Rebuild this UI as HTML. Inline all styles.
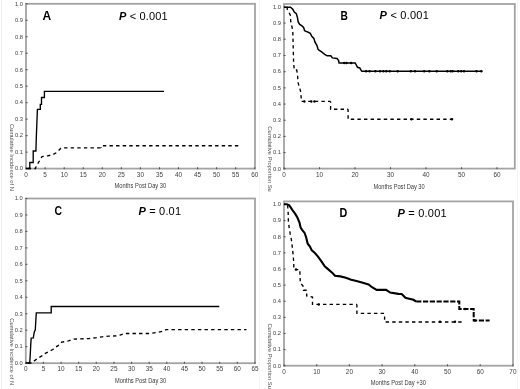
<!DOCTYPE html>
<html><head><meta charset="utf-8"><style>
html,body{margin:0;padding:0;background:#fff;}
svg{display:block;font-family:"Liberation Sans",sans-serif;filter:blur(0.3px);}
</style></head><body>
<svg width="520" height="389" viewBox="0 0 520 389">
<rect width="520" height="389" fill="#fff"/>
<line x1="1.5" y1="0" x2="1.5" y2="389" stroke="#efefef" stroke-width="1"/>
<line x1="259.5" y1="0" x2="259.5" y2="389" stroke="#f6f6f6" stroke-width="1"/>
<line x1="517.5" y1="0" x2="517.5" y2="389" stroke="#f6f6f6" stroke-width="1"/>
<rect x="26" y="3.8" width="229" height="164.8" fill="none" stroke="#a3a3a3" stroke-width="1.8"/>
<line x1="25.6" y1="168.6" x2="27.6" y2="168.6" stroke="#555" stroke-width="1.1"/>
<text x="23" y="170.4" text-anchor="end" font-size="5.9" fill="#404040" textLength="8" lengthAdjust="spacingAndGlyphs">0.0</text>
<line x1="25.6" y1="152.12" x2="27.6" y2="152.12" stroke="#555" stroke-width="1.1"/>
<text x="23" y="153.92" text-anchor="end" font-size="5.9" fill="#404040" textLength="8" lengthAdjust="spacingAndGlyphs">0.1</text>
<line x1="25.6" y1="135.64" x2="27.6" y2="135.64" stroke="#555" stroke-width="1.1"/>
<text x="23" y="137.44" text-anchor="end" font-size="5.9" fill="#404040" textLength="8" lengthAdjust="spacingAndGlyphs">0.2</text>
<line x1="25.6" y1="119.16" x2="27.6" y2="119.16" stroke="#555" stroke-width="1.1"/>
<text x="23" y="120.96" text-anchor="end" font-size="5.9" fill="#404040" textLength="8" lengthAdjust="spacingAndGlyphs">0.3</text>
<line x1="25.6" y1="102.68" x2="27.6" y2="102.68" stroke="#555" stroke-width="1.1"/>
<text x="23" y="104.48" text-anchor="end" font-size="5.9" fill="#404040" textLength="8" lengthAdjust="spacingAndGlyphs">0.4</text>
<line x1="25.6" y1="86.2" x2="27.6" y2="86.2" stroke="#555" stroke-width="1.1"/>
<text x="23" y="88" text-anchor="end" font-size="5.9" fill="#404040" textLength="8" lengthAdjust="spacingAndGlyphs">0.5</text>
<line x1="25.6" y1="69.72" x2="27.6" y2="69.72" stroke="#555" stroke-width="1.1"/>
<text x="23" y="71.52" text-anchor="end" font-size="5.9" fill="#404040" textLength="8" lengthAdjust="spacingAndGlyphs">0.6</text>
<line x1="25.6" y1="53.24" x2="27.6" y2="53.24" stroke="#555" stroke-width="1.1"/>
<text x="23" y="55.04" text-anchor="end" font-size="5.9" fill="#404040" textLength="8" lengthAdjust="spacingAndGlyphs">0.7</text>
<line x1="25.6" y1="36.76" x2="27.6" y2="36.76" stroke="#555" stroke-width="1.1"/>
<text x="23" y="38.56" text-anchor="end" font-size="5.9" fill="#404040" textLength="8" lengthAdjust="spacingAndGlyphs">0.8</text>
<line x1="25.6" y1="20.28" x2="27.6" y2="20.28" stroke="#555" stroke-width="1.1"/>
<text x="23" y="22.08" text-anchor="end" font-size="5.9" fill="#404040" textLength="8" lengthAdjust="spacingAndGlyphs">0.9</text>
<line x1="25.6" y1="3.8" x2="27.6" y2="3.8" stroke="#555" stroke-width="1.1"/>
<text x="23" y="5.6" text-anchor="end" font-size="5.9" fill="#404040" textLength="8" lengthAdjust="spacingAndGlyphs">1.0</text>
<line x1="26.1" y1="169.2" x2="26.1" y2="167.2" stroke="#555" stroke-width="1.1"/>
<text x="26.1" y="177.2" text-anchor="middle" font-size="6.4" fill="#404040">0</text>
<line x1="45.15" y1="169.2" x2="45.15" y2="167.2" stroke="#555" stroke-width="1.1"/>
<text x="45.15" y="177.2" text-anchor="middle" font-size="6.4" fill="#404040">5</text>
<line x1="64.2" y1="169.2" x2="64.2" y2="167.2" stroke="#555" stroke-width="1.1"/>
<text x="64.2" y="177.2" text-anchor="middle" font-size="6.4" fill="#404040">10</text>
<line x1="83.25" y1="169.2" x2="83.25" y2="167.2" stroke="#555" stroke-width="1.1"/>
<text x="83.25" y="177.2" text-anchor="middle" font-size="6.4" fill="#404040">15</text>
<line x1="102.3" y1="169.2" x2="102.3" y2="167.2" stroke="#555" stroke-width="1.1"/>
<text x="102.3" y="177.2" text-anchor="middle" font-size="6.4" fill="#404040">20</text>
<line x1="121.35" y1="169.2" x2="121.35" y2="167.2" stroke="#555" stroke-width="1.1"/>
<text x="121.35" y="177.2" text-anchor="middle" font-size="6.4" fill="#404040">25</text>
<line x1="140.4" y1="169.2" x2="140.4" y2="167.2" stroke="#555" stroke-width="1.1"/>
<text x="140.4" y="177.2" text-anchor="middle" font-size="6.4" fill="#404040">30</text>
<line x1="159.45" y1="169.2" x2="159.45" y2="167.2" stroke="#555" stroke-width="1.1"/>
<text x="159.45" y="177.2" text-anchor="middle" font-size="6.4" fill="#404040">35</text>
<line x1="178.5" y1="169.2" x2="178.5" y2="167.2" stroke="#555" stroke-width="1.1"/>
<text x="178.5" y="177.2" text-anchor="middle" font-size="6.4" fill="#404040">40</text>
<line x1="197.55" y1="169.2" x2="197.55" y2="167.2" stroke="#555" stroke-width="1.1"/>
<text x="197.55" y="177.2" text-anchor="middle" font-size="6.4" fill="#404040">45</text>
<line x1="216.6" y1="169.2" x2="216.6" y2="167.2" stroke="#555" stroke-width="1.1"/>
<text x="216.6" y="177.2" text-anchor="middle" font-size="6.4" fill="#404040">50</text>
<line x1="235.65" y1="169.2" x2="235.65" y2="167.2" stroke="#555" stroke-width="1.1"/>
<text x="235.65" y="177.2" text-anchor="middle" font-size="6.4" fill="#404040">55</text>
<line x1="254.7" y1="169.2" x2="254.7" y2="167.2" stroke="#555" stroke-width="1.1"/>
<text x="254.7" y="177.2" text-anchor="middle" font-size="6.4" fill="#404040">60</text>
<text x="114.6" y="188.2" font-size="6.3" fill="#3a3a3a" textLength="51.6" lengthAdjust="spacingAndGlyphs">Months Post Day 30</text>
<text transform="translate(9.8,124) rotate(90)" font-size="5.8" fill="#505050" textLength="66.8" lengthAdjust="spacingAndGlyphs">Cumulative Incidence of N</text>
<text transform="translate(42.6,19.8) scale(1.0,1)" font-size="12" font-weight="bold" fill="#000">A</text>
<text x="119" y="19.6" font-size="11" fill="#000" textLength="48.6" lengthAdjust="spacing"><tspan font-weight="bold" font-style="italic">P</tspan> &lt; 0.001</text>
<path d="M26 168.5 L29.8 168.5 L29.8 162.5 L33.2 162.5 L33.2 151 L35.9 151 L36.4 135 L37.4 109.4 L40.3 109.4 L40.3 104.4 L41.5 104.4 L41.5 97.5 L44.4 97.5 L44.4 91.4 L164 91.4" fill="none" stroke="#000" stroke-width="1.35" stroke-linejoin="miter"/>
<path d="M26 168.5 L35.5 168.5 L36.2 166.2 L40 160 L42 156.6 L47.7 155.8 L53.1 154.6 L57 152.3 L60.8 148.3 L61.5 147.8 L101.1 147.8" fill="none" stroke="#000" stroke-width="1.35" stroke-dasharray="3.4 3.2" stroke-dashoffset="4.89"/>
<path d="M101.1 147.8 L101.1 145.7 L239.5 145.7" fill="none" stroke="#000" stroke-width="1.35" stroke-dasharray="3.4 3.2" stroke-dashoffset="2.70"/>
<rect x="284" y="4" width="230.8" height="164.6" fill="none" stroke="#a3a3a3" stroke-width="1.8"/>
<line x1="283.6" y1="168.8" x2="285.6" y2="168.8" stroke="#555" stroke-width="1.1"/>
<text x="281" y="170.6" text-anchor="end" font-size="5.9" fill="#404040" textLength="8" lengthAdjust="spacingAndGlyphs">0.0</text>
<line x1="283.6" y1="152.61" x2="285.6" y2="152.61" stroke="#555" stroke-width="1.1"/>
<text x="281" y="154.41" text-anchor="end" font-size="5.9" fill="#404040" textLength="8" lengthAdjust="spacingAndGlyphs">0.1</text>
<line x1="283.6" y1="136.42" x2="285.6" y2="136.42" stroke="#555" stroke-width="1.1"/>
<text x="281" y="138.22" text-anchor="end" font-size="5.9" fill="#404040" textLength="8" lengthAdjust="spacingAndGlyphs">0.2</text>
<line x1="283.6" y1="120.23" x2="285.6" y2="120.23" stroke="#555" stroke-width="1.1"/>
<text x="281" y="122.03" text-anchor="end" font-size="5.9" fill="#404040" textLength="8" lengthAdjust="spacingAndGlyphs">0.3</text>
<line x1="283.6" y1="104.04" x2="285.6" y2="104.04" stroke="#555" stroke-width="1.1"/>
<text x="281" y="105.84" text-anchor="end" font-size="5.9" fill="#404040" textLength="8" lengthAdjust="spacingAndGlyphs">0.4</text>
<line x1="283.6" y1="87.85" x2="285.6" y2="87.85" stroke="#555" stroke-width="1.1"/>
<text x="281" y="89.65" text-anchor="end" font-size="5.9" fill="#404040" textLength="8" lengthAdjust="spacingAndGlyphs">0.5</text>
<line x1="283.6" y1="71.66" x2="285.6" y2="71.66" stroke="#555" stroke-width="1.1"/>
<text x="281" y="73.46" text-anchor="end" font-size="5.9" fill="#404040" textLength="8" lengthAdjust="spacingAndGlyphs">0.6</text>
<line x1="283.6" y1="55.47" x2="285.6" y2="55.47" stroke="#555" stroke-width="1.1"/>
<text x="281" y="57.27" text-anchor="end" font-size="5.9" fill="#404040" textLength="8" lengthAdjust="spacingAndGlyphs">0.7</text>
<line x1="283.6" y1="39.28" x2="285.6" y2="39.28" stroke="#555" stroke-width="1.1"/>
<text x="281" y="41.08" text-anchor="end" font-size="5.9" fill="#404040" textLength="8" lengthAdjust="spacingAndGlyphs">0.8</text>
<line x1="283.6" y1="23.09" x2="285.6" y2="23.09" stroke="#555" stroke-width="1.1"/>
<text x="281" y="24.89" text-anchor="end" font-size="5.9" fill="#404040" textLength="8" lengthAdjust="spacingAndGlyphs">0.9</text>
<line x1="283.6" y1="6.9" x2="285.6" y2="6.9" stroke="#555" stroke-width="1.1"/>
<text x="281" y="8.7" text-anchor="end" font-size="5.9" fill="#404040" textLength="8" lengthAdjust="spacingAndGlyphs">1.0</text>
<line x1="284" y1="169.2" x2="284" y2="167.2" stroke="#555" stroke-width="1.1"/>
<text x="284" y="177" text-anchor="middle" font-size="6.4" fill="#404040">0</text>
<line x1="319.5" y1="169.2" x2="319.5" y2="167.2" stroke="#555" stroke-width="1.1"/>
<text x="319.5" y="177" text-anchor="middle" font-size="6.4" fill="#404040">10</text>
<line x1="355" y1="169.2" x2="355" y2="167.2" stroke="#555" stroke-width="1.1"/>
<text x="355" y="177" text-anchor="middle" font-size="6.4" fill="#404040">20</text>
<line x1="390.5" y1="169.2" x2="390.5" y2="167.2" stroke="#555" stroke-width="1.1"/>
<text x="390.5" y="177" text-anchor="middle" font-size="6.4" fill="#404040">30</text>
<line x1="426" y1="169.2" x2="426" y2="167.2" stroke="#555" stroke-width="1.1"/>
<text x="426" y="177" text-anchor="middle" font-size="6.4" fill="#404040">40</text>
<line x1="461.5" y1="169.2" x2="461.5" y2="167.2" stroke="#555" stroke-width="1.1"/>
<text x="461.5" y="177" text-anchor="middle" font-size="6.4" fill="#404040">50</text>
<line x1="497" y1="169.2" x2="497" y2="167.2" stroke="#555" stroke-width="1.1"/>
<text x="497" y="177" text-anchor="middle" font-size="6.4" fill="#404040">60</text>
<text x="373.4" y="188.9" font-size="6.3" fill="#3a3a3a" textLength="51.3" lengthAdjust="spacingAndGlyphs">Months Post Day 30</text>
<text transform="translate(268,126.3) rotate(90)" font-size="5.8" fill="#505050" textLength="65.5" lengthAdjust="spacingAndGlyphs">Cumulative Proportion Su</text>
<text transform="translate(340.6,19.9) scale(0.85,1)" font-size="12" font-weight="bold" fill="#000">B</text>
<text x="379.6" y="19.2" font-size="11" fill="#000" textLength="49.2" lengthAdjust="spacing"><tspan font-weight="bold" font-style="italic">P</tspan> &lt; 0.001</text>
<path d="M284 7.2 L290.5 7.2 L292.8 9.3 L294.3 12 L296.3 13.6 L297.4 17.4 L298.2 22 L299.7 24.4 L302 25.9 L303.6 27.4 L304.6 30.7 L306.2 31.4 L308.2 32.2 L310.3 33.2 L311.8 36.3 L313.9 38.4 L314.9 42 L317 45.6 L318 49.2 L319 50.2 L321.6 51.9 L324.7 54.3 L327.2 55.8 L330.8 55.8 L332.4 57.9 L337 58.4 L338.6 60.5 L339.1 62.9 L355.2 62.9 L356.3 65 L357.5 67.3 L359.8 67.9 L361 70.2 L361.8 71.3 L482.3 71.3" fill="none" stroke="#000" stroke-width="1.5" stroke-linejoin="miter"/>
<path d="M284 7.2 L287 7.2 L287.4 9.7 L290.3 15 L290.8 22 L292 27 L292.8 31.3 L293.6 62.3 L294.3 70 L296.7 70 L297.4 73.9 L298.2 83.1 L300.5 90.9 L301.3 98.6 L301.3 101.4 L330.6 101.4" fill="none" stroke="#000" stroke-width="1.35" stroke-dasharray="3.4 3.2" stroke-dashoffset="4.18"/>
<path d="M330.6 101.4 L330.6 109.2 L348.1 109.2" fill="none" stroke="#000" stroke-width="1.35" stroke-dasharray="3.4 3.2" stroke-dashoffset="2.00"/>
<path d="M348.1 109.2 L348.1 119.2 L454.5 119.2" fill="none" stroke="#000" stroke-width="1.35" stroke-dasharray="3.4 3.2" stroke-dashoffset="0.50"/>
<ellipse cx="344.2" cy="62.9" rx="1.2" ry="1.25" fill="#000"/>
<ellipse cx="346.5" cy="62.9" rx="1.2" ry="1.25" fill="#000"/>
<ellipse cx="351.1" cy="62.9" rx="1.2" ry="1.25" fill="#000"/>
<ellipse cx="366.1" cy="71.3" rx="1.2" ry="1.25" fill="#000"/>
<ellipse cx="369.6" cy="71.3" rx="1.2" ry="1.25" fill="#000"/>
<ellipse cx="375.4" cy="71.3" rx="1.2" ry="1.25" fill="#000"/>
<ellipse cx="380" cy="71.3" rx="1.2" ry="1.25" fill="#000"/>
<ellipse cx="383.4" cy="71.3" rx="1.2" ry="1.25" fill="#000"/>
<ellipse cx="386.3" cy="71.3" rx="1.2" ry="1.25" fill="#000"/>
<ellipse cx="389.8" cy="71.3" rx="1.2" ry="1.25" fill="#000"/>
<ellipse cx="397.7" cy="71.3" rx="1.2" ry="1.25" fill="#000"/>
<ellipse cx="410.8" cy="71.3" rx="1.2" ry="1.25" fill="#000"/>
<ellipse cx="415" cy="71.3" rx="1.2" ry="1.25" fill="#000"/>
<ellipse cx="424.2" cy="71.3" rx="1.2" ry="1.25" fill="#000"/>
<ellipse cx="429.4" cy="71.3" rx="1.2" ry="1.25" fill="#000"/>
<ellipse cx="436.7" cy="71.3" rx="1.2" ry="1.25" fill="#000"/>
<ellipse cx="447.3" cy="71.3" rx="1.2" ry="1.25" fill="#000"/>
<ellipse cx="450.6" cy="71.3" rx="1.2" ry="1.25" fill="#000"/>
<ellipse cx="452.5" cy="71.3" rx="1.2" ry="1.25" fill="#000"/>
<ellipse cx="458.3" cy="71.3" rx="1.2" ry="1.25" fill="#000"/>
<ellipse cx="461.2" cy="71.3" rx="1.2" ry="1.25" fill="#000"/>
<ellipse cx="464" cy="71.3" rx="1.2" ry="1.25" fill="#000"/>
<ellipse cx="476.5" cy="71.3" rx="1.2" ry="1.25" fill="#000"/>
<ellipse cx="481.3" cy="71.3" rx="1.2" ry="1.25" fill="#000"/>
<ellipse cx="304.4" cy="101.4" rx="1.2" ry="1.25" fill="#000"/>
<ellipse cx="311.3" cy="101.4" rx="1.2" ry="1.25" fill="#000"/>
<ellipse cx="314.4" cy="101.4" rx="1.2" ry="1.25" fill="#000"/>
<ellipse cx="411.4" cy="119.2" rx="1.2" ry="1.25" fill="#000"/>
<ellipse cx="451.8" cy="119.2" rx="1.2" ry="1.25" fill="#000"/>
<rect x="25.8" y="198.5" width="229.2" height="164.7" fill="none" stroke="#a3a3a3" stroke-width="1.8"/>
<line x1="25.4" y1="363.1" x2="27.4" y2="363.1" stroke="#555" stroke-width="1.1"/>
<text x="22.8" y="364.9" text-anchor="end" font-size="5.9" fill="#404040" textLength="8" lengthAdjust="spacingAndGlyphs">0.0</text>
<line x1="25.4" y1="346.64" x2="27.4" y2="346.64" stroke="#555" stroke-width="1.1"/>
<text x="22.8" y="348.44" text-anchor="end" font-size="5.9" fill="#404040" textLength="8" lengthAdjust="spacingAndGlyphs">0.1</text>
<line x1="25.4" y1="330.18" x2="27.4" y2="330.18" stroke="#555" stroke-width="1.1"/>
<text x="22.8" y="331.98" text-anchor="end" font-size="5.9" fill="#404040" textLength="8" lengthAdjust="spacingAndGlyphs">0.2</text>
<line x1="25.4" y1="313.72" x2="27.4" y2="313.72" stroke="#555" stroke-width="1.1"/>
<text x="22.8" y="315.52" text-anchor="end" font-size="5.9" fill="#404040" textLength="8" lengthAdjust="spacingAndGlyphs">0.3</text>
<line x1="25.4" y1="297.26" x2="27.4" y2="297.26" stroke="#555" stroke-width="1.1"/>
<text x="22.8" y="299.06" text-anchor="end" font-size="5.9" fill="#404040" textLength="8" lengthAdjust="spacingAndGlyphs">0.4</text>
<line x1="25.4" y1="280.8" x2="27.4" y2="280.8" stroke="#555" stroke-width="1.1"/>
<text x="22.8" y="282.6" text-anchor="end" font-size="5.9" fill="#404040" textLength="8" lengthAdjust="spacingAndGlyphs">0.5</text>
<line x1="25.4" y1="264.34" x2="27.4" y2="264.34" stroke="#555" stroke-width="1.1"/>
<text x="22.8" y="266.14" text-anchor="end" font-size="5.9" fill="#404040" textLength="8" lengthAdjust="spacingAndGlyphs">0.6</text>
<line x1="25.4" y1="247.88" x2="27.4" y2="247.88" stroke="#555" stroke-width="1.1"/>
<text x="22.8" y="249.68" text-anchor="end" font-size="5.9" fill="#404040" textLength="8" lengthAdjust="spacingAndGlyphs">0.7</text>
<line x1="25.4" y1="231.42" x2="27.4" y2="231.42" stroke="#555" stroke-width="1.1"/>
<text x="22.8" y="233.22" text-anchor="end" font-size="5.9" fill="#404040" textLength="8" lengthAdjust="spacingAndGlyphs">0.8</text>
<line x1="25.4" y1="214.96" x2="27.4" y2="214.96" stroke="#555" stroke-width="1.1"/>
<text x="22.8" y="216.76" text-anchor="end" font-size="5.9" fill="#404040" textLength="8" lengthAdjust="spacingAndGlyphs">0.9</text>
<line x1="25.4" y1="198.5" x2="27.4" y2="198.5" stroke="#555" stroke-width="1.1"/>
<text x="22.8" y="200.3" text-anchor="end" font-size="5.9" fill="#404040" textLength="8" lengthAdjust="spacingAndGlyphs">1.0</text>
<line x1="25.8" y1="363.8" x2="25.8" y2="361.8" stroke="#555" stroke-width="1.1"/>
<text x="25.8" y="371" text-anchor="middle" font-size="6.4" fill="#404040">0</text>
<line x1="43.42" y1="363.8" x2="43.42" y2="361.8" stroke="#555" stroke-width="1.1"/>
<text x="43.42" y="371" text-anchor="middle" font-size="6.4" fill="#404040">5</text>
<line x1="61.05" y1="363.8" x2="61.05" y2="361.8" stroke="#555" stroke-width="1.1"/>
<text x="61.05" y="371" text-anchor="middle" font-size="6.4" fill="#404040">10</text>
<line x1="78.67" y1="363.8" x2="78.67" y2="361.8" stroke="#555" stroke-width="1.1"/>
<text x="78.67" y="371" text-anchor="middle" font-size="6.4" fill="#404040">15</text>
<line x1="96.3" y1="363.8" x2="96.3" y2="361.8" stroke="#555" stroke-width="1.1"/>
<text x="96.3" y="371" text-anchor="middle" font-size="6.4" fill="#404040">20</text>
<line x1="113.92" y1="363.8" x2="113.92" y2="361.8" stroke="#555" stroke-width="1.1"/>
<text x="113.92" y="371" text-anchor="middle" font-size="6.4" fill="#404040">25</text>
<line x1="131.55" y1="363.8" x2="131.55" y2="361.8" stroke="#555" stroke-width="1.1"/>
<text x="131.55" y="371" text-anchor="middle" font-size="6.4" fill="#404040">30</text>
<line x1="149.18" y1="363.8" x2="149.18" y2="361.8" stroke="#555" stroke-width="1.1"/>
<text x="149.18" y="371" text-anchor="middle" font-size="6.4" fill="#404040">35</text>
<line x1="166.8" y1="363.8" x2="166.8" y2="361.8" stroke="#555" stroke-width="1.1"/>
<text x="166.8" y="371" text-anchor="middle" font-size="6.4" fill="#404040">40</text>
<line x1="184.43" y1="363.8" x2="184.43" y2="361.8" stroke="#555" stroke-width="1.1"/>
<text x="184.43" y="371" text-anchor="middle" font-size="6.4" fill="#404040">45</text>
<line x1="202.05" y1="363.8" x2="202.05" y2="361.8" stroke="#555" stroke-width="1.1"/>
<text x="202.05" y="371" text-anchor="middle" font-size="6.4" fill="#404040">50</text>
<line x1="219.68" y1="363.8" x2="219.68" y2="361.8" stroke="#555" stroke-width="1.1"/>
<text x="219.68" y="371" text-anchor="middle" font-size="6.4" fill="#404040">55</text>
<line x1="237.3" y1="363.8" x2="237.3" y2="361.8" stroke="#555" stroke-width="1.1"/>
<text x="237.3" y="371" text-anchor="middle" font-size="6.4" fill="#404040">60</text>
<line x1="254.93" y1="363.8" x2="254.93" y2="361.8" stroke="#555" stroke-width="1.1"/>
<text x="254.93" y="371" text-anchor="middle" font-size="6.4" fill="#404040">65</text>
<text x="115.1" y="383.4" font-size="6.3" fill="#3a3a3a" textLength="51" lengthAdjust="spacingAndGlyphs">Months Post Day 30</text>
<text transform="translate(9.8,318.3) rotate(90)" font-size="5.8" fill="#505050" textLength="66.8" lengthAdjust="spacingAndGlyphs">Cumulative Incidence of N</text>
<text transform="translate(54.4,214.6) scale(0.87,1)" font-size="12" font-weight="bold" fill="#000">C</text>
<text x="138.6" y="214.5" font-size="11" fill="#000" textLength="42.4" lengthAdjust="spacing"><tspan font-weight="bold" font-style="italic">P</tspan> = 0.01</text>
<path d="M25.8 363 L29.7 363 L30.2 355.7 L30.7 345.4 L31.2 338.2 L33.3 338 L33.8 334.6 L34.3 332 L35.3 329.8 L35.8 320.6 L36.3 312.9 L51.2 312.9 L51.2 306.5 L219.3 306.5" fill="none" stroke="#000" stroke-width="1.35" stroke-linejoin="miter"/>
<path d="M25.8 363 L31.7 363 L34.3 360.9 L38.4 357.8 L41.5 356.2 L44.6 353.7 L48.7 351.6 L52.8 349.5 L55.9 347 L60.4 344.2 L61.7 342.2 L68.5 340.9 L73.8 339.1 L88.6 338.6 L95.4 337.8 L102.1 336.8 L108.8 336.2 L116.9 335.9 L120 335.1 L124.6 333.5 L149.2 333.5 L156.9 332.5 L163.1 331.2 L166.2 329.6 L246.5 329.6" fill="none" stroke="#000" stroke-width="1.35" stroke-dasharray="3.4 3.2" stroke-dashoffset="4.32"/>
<rect x="284" y="201.4" width="229" height="164.3" fill="none" stroke="#a3a3a3" stroke-width="1.8"/>
<line x1="283.6" y1="365.7" x2="285.6" y2="365.7" stroke="#555" stroke-width="1.1"/>
<text x="281" y="367.5" text-anchor="end" font-size="5.9" fill="#404040" textLength="8" lengthAdjust="spacingAndGlyphs">0.0</text>
<line x1="283.6" y1="349.58" x2="285.6" y2="349.58" stroke="#555" stroke-width="1.1"/>
<text x="281" y="351.38" text-anchor="end" font-size="5.9" fill="#404040" textLength="8" lengthAdjust="spacingAndGlyphs">0.1</text>
<line x1="283.6" y1="333.46" x2="285.6" y2="333.46" stroke="#555" stroke-width="1.1"/>
<text x="281" y="335.26" text-anchor="end" font-size="5.9" fill="#404040" textLength="8" lengthAdjust="spacingAndGlyphs">0.2</text>
<line x1="283.6" y1="317.34" x2="285.6" y2="317.34" stroke="#555" stroke-width="1.1"/>
<text x="281" y="319.14" text-anchor="end" font-size="5.9" fill="#404040" textLength="8" lengthAdjust="spacingAndGlyphs">0.3</text>
<line x1="283.6" y1="301.22" x2="285.6" y2="301.22" stroke="#555" stroke-width="1.1"/>
<text x="281" y="303.02" text-anchor="end" font-size="5.9" fill="#404040" textLength="8" lengthAdjust="spacingAndGlyphs">0.4</text>
<line x1="283.6" y1="285.1" x2="285.6" y2="285.1" stroke="#555" stroke-width="1.1"/>
<text x="281" y="286.9" text-anchor="end" font-size="5.9" fill="#404040" textLength="8" lengthAdjust="spacingAndGlyphs">0.5</text>
<line x1="283.6" y1="268.98" x2="285.6" y2="268.98" stroke="#555" stroke-width="1.1"/>
<text x="281" y="270.78" text-anchor="end" font-size="5.9" fill="#404040" textLength="8" lengthAdjust="spacingAndGlyphs">0.6</text>
<line x1="283.6" y1="252.86" x2="285.6" y2="252.86" stroke="#555" stroke-width="1.1"/>
<text x="281" y="254.66" text-anchor="end" font-size="5.9" fill="#404040" textLength="8" lengthAdjust="spacingAndGlyphs">0.7</text>
<line x1="283.6" y1="236.74" x2="285.6" y2="236.74" stroke="#555" stroke-width="1.1"/>
<text x="281" y="238.54" text-anchor="end" font-size="5.9" fill="#404040" textLength="8" lengthAdjust="spacingAndGlyphs">0.8</text>
<line x1="283.6" y1="220.62" x2="285.6" y2="220.62" stroke="#555" stroke-width="1.1"/>
<text x="281" y="222.42" text-anchor="end" font-size="5.9" fill="#404040" textLength="8" lengthAdjust="spacingAndGlyphs">0.9</text>
<line x1="283.6" y1="204.5" x2="285.6" y2="204.5" stroke="#555" stroke-width="1.1"/>
<text x="281" y="206.3" text-anchor="end" font-size="5.9" fill="#404040" textLength="8" lengthAdjust="spacingAndGlyphs">1.0</text>
<line x1="284" y1="366.3" x2="284" y2="364.3" stroke="#555" stroke-width="1.1"/>
<text x="284" y="373.9" text-anchor="middle" font-size="6.4" fill="#404040">0</text>
<line x1="316.7" y1="366.3" x2="316.7" y2="364.3" stroke="#555" stroke-width="1.1"/>
<text x="316.7" y="373.9" text-anchor="middle" font-size="6.4" fill="#404040">10</text>
<line x1="349.4" y1="366.3" x2="349.4" y2="364.3" stroke="#555" stroke-width="1.1"/>
<text x="349.4" y="373.9" text-anchor="middle" font-size="6.4" fill="#404040">20</text>
<line x1="382.1" y1="366.3" x2="382.1" y2="364.3" stroke="#555" stroke-width="1.1"/>
<text x="382.1" y="373.9" text-anchor="middle" font-size="6.4" fill="#404040">30</text>
<line x1="414.8" y1="366.3" x2="414.8" y2="364.3" stroke="#555" stroke-width="1.1"/>
<text x="414.8" y="373.9" text-anchor="middle" font-size="6.4" fill="#404040">40</text>
<line x1="447.5" y1="366.3" x2="447.5" y2="364.3" stroke="#555" stroke-width="1.1"/>
<text x="447.5" y="373.9" text-anchor="middle" font-size="6.4" fill="#404040">50</text>
<line x1="480.2" y1="366.3" x2="480.2" y2="364.3" stroke="#555" stroke-width="1.1"/>
<text x="480.2" y="373.9" text-anchor="middle" font-size="6.4" fill="#404040">60</text>
<line x1="512.9" y1="366.3" x2="512.9" y2="364.3" stroke="#555" stroke-width="1.1"/>
<text x="512.9" y="373.9" text-anchor="middle" font-size="6.4" fill="#404040">70</text>
<text x="370.8" y="385.4" font-size="6.3" fill="#3a3a3a" textLength="55.2" lengthAdjust="spacingAndGlyphs">Months Post Day +30</text>
<text transform="translate(268,323.4) rotate(90)" font-size="5.8" fill="#505050" textLength="65.5" lengthAdjust="spacingAndGlyphs">Cumulative Proportion Su</text>
<text transform="translate(339.6,217.2) scale(0.9,1)" font-size="12" font-weight="bold" fill="#000">D</text>
<text x="397.4" y="217" font-size="11" fill="#000" textLength="49.2" lengthAdjust="spacing"><tspan font-weight="bold" font-style="italic">P</tspan> = 0.001</text>
<path d="M284 204.3 L287 204.3 L289.3 205.3 L290.2 206.7 L292.3 209.8 L294.9 213.4 L297.4 217.5 L299.5 222.6 L300.5 227.2 L302.1 229.8 L304.6 232.9 L306.2 237.5 L307.7 243.7 L309.8 246.3 L311.8 250.4 L314.9 253 L318 256.6 L321.6 261.7 L324.7 266.4 L328.6 269.6 L332.4 272.9 L335 275.8 L340.4 276.4 L345.8 277.8 L351.2 279.8 L356.5 280.9 L361.9 282.5 L368.6 284.5 L372 287.2 L376.7 289.9 L386.1 289.9 L390.2 292.6 L398.3 293.9 L401.6 294 L402.7 295.1 L405.4 297.8 L408.1 298.5 L413.5 299.8 L416.2 301.6" fill="none" stroke="#000" stroke-width="2.1" stroke-linejoin="miter"/>
<path d="M416.2 301.6 L459.3 301.6 L459.3 308.9 L473.7 308.9 L473.7 320.6 L489.6 320.6" fill="none" stroke="#000" stroke-width="2.0" stroke-linejoin="miter" stroke-dasharray="5.2 1.6"/>
<path d="M284 204.3 L287.5 204.3 L287.7 206.2 L288.2 213.4 L288.4 221.6 L289.2 227.8 L290.2 233.9 L291.3 239.1 L291.8 243.2 L292.8 251.5 L293.8 262.8 L293.8 269.6 L299.8 269.6 L300.3 283.1 L302.9 285.7 L303.5 290.2 L306.7 290.2 L306.7 296 L312.5 297 L312.5 304.4 L356.9 304.4" fill="none" stroke="#000" stroke-width="1.35" stroke-dasharray="3.4 3.2" stroke-dashoffset="2.28"/>
<path d="M356.9 304.4 L356.9 313.3 L384.6 313.3" fill="none" stroke="#000" stroke-width="1.35" stroke-dasharray="3.4 3.2" stroke-dashoffset="0.40"/>
<path d="M384.6 313.3 L384.6 322 L463.8 322" fill="none" stroke="#000" stroke-width="1.35" stroke-dasharray="3.4 3.2" stroke-dashoffset="3.50"/>
<ellipse cx="465" cy="309" rx="1.2" ry="1.25" fill="#000"/>
<ellipse cx="475" cy="320.6" rx="1.2" ry="1.25" fill="#000"/>
<ellipse cx="296" cy="269.6" rx="1.2" ry="1.25" fill="#000"/>
<ellipse cx="318.8" cy="304.4" rx="1.2" ry="1.25" fill="#000"/>
<ellipse cx="440" cy="321.8" rx="1.2" ry="1.25" fill="#000"/>
<ellipse cx="455" cy="321.8" rx="1.2" ry="1.25" fill="#000"/>
</svg>
</body></html>
